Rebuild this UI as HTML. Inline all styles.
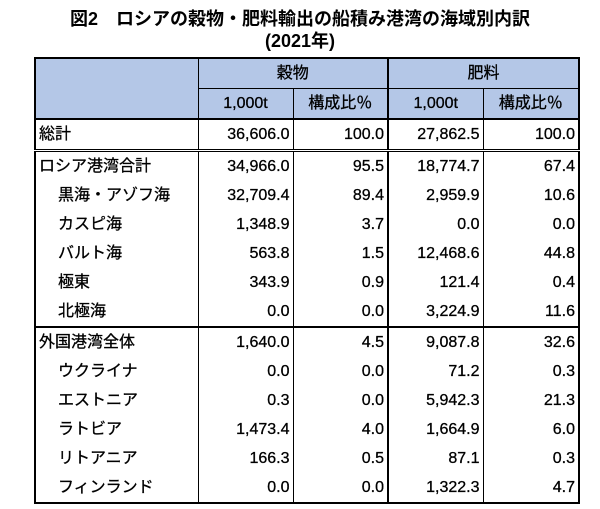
<!DOCTYPE html><html><head><meta charset="utf-8"><style>
body{margin:0;width:600px;height:509px;background:#fff;font-family:"Liberation Sans","Noto Sans CJK JP",sans-serif;color:#000;position:relative;overflow:hidden}
.t{position:absolute;left:0;width:600px;text-align:center;font-weight:bold;font-size:18px}
table{position:absolute;left:34px;top:57px;border-collapse:collapse;font-size:16px;-webkit-text-stroke:0.3px #000}
td{border:1px solid #000;padding:0 3px;height:29px;line-height:29px;white-space:nowrap}
td.n{text-align:right}
.h td{background:#b4c7e7;text-align:center}
.tk{border-top:2px solid #000}
.g td{border-top:none;border-bottom:none}
.ind{padding-left:22px}
</style></head><body>
<div class="t" style="top:5px">図2　ロシアの穀物・肥料輸出の船積み港湾の海域別内訳</div>
<div class="t" style="top:27px">(2021年)</div>
<table style="border:2px solid #000">
<colgroup><col style="width:163px"><col style="width:95px"><col style="width:95px"><col style="width:95px"><col style="width:96px"></colgroup>
<tr class="h"><td rowspan="2"></td><td colspan="2">穀物</td><td colspan="2" style="border-left:2px solid #000">肥料</td></tr>
<tr class="h"><td>1,000t</td><td>構成比％</td><td style="border-left:2px solid #000">1,000t</td><td>構成比％</td></tr>
<tr><td class="tk">総計</td><td class="n tk">36,606.0</td><td class="n tk">100.0</td><td class="n tk" style="border-left:2px solid #000">27,862.5</td><td class="n tk">100.0</td></tr>
<tr class="g"><td style="border-top:3px double #000">ロシア港湾合計</td><td class="n" style="border-top:3px double #000">34,966.0</td><td class="n" style="border-top:3px double #000">95.5</td><td class="n" style="border-top:3px double #000;border-left:2px solid #000">18,774.7</td><td class="n" style="border-top:3px double #000">67.4</td></tr>
<tr class="g"><td class="ind">黒海・アゾフ海</td><td class="n">32,709.4</td><td class="n">89.4</td><td class="n" style="border-left:2px solid #000">2,959.9</td><td class="n">10.6</td></tr>
<tr class="g"><td class="ind">カスピ海</td><td class="n">1,348.9</td><td class="n">3.7</td><td class="n" style="border-left:2px solid #000">0.0</td><td class="n">0.0</td></tr>
<tr class="g"><td class="ind">バルト海</td><td class="n">563.8</td><td class="n">1.5</td><td class="n" style="border-left:2px solid #000">12,468.6</td><td class="n">44.8</td></tr>
<tr class="g"><td class="ind">極東</td><td class="n">343.9</td><td class="n">0.9</td><td class="n" style="border-left:2px solid #000">121.4</td><td class="n">0.4</td></tr>
<tr class="g"><td class="ind">北極海</td><td class="n">0.0</td><td class="n">0.0</td><td class="n" style="border-left:2px solid #000">3,224.9</td><td class="n">11.6</td></tr>
<tr class="g"><td style="border-top:2px solid #000">外国港湾全体</td><td class="n" style="border-top:2px solid #000">1,640.0</td><td class="n" style="border-top:2px solid #000">4.5</td><td class="n" style="border-top:2px solid #000;border-left:2px solid #000">9,087.8</td><td class="n" style="border-top:2px solid #000">32.6</td></tr>
<tr class="g"><td class="ind">ウクライナ</td><td class="n">0.0</td><td class="n">0.0</td><td class="n" style="border-left:2px solid #000">71.2</td><td class="n">0.3</td></tr>
<tr class="g"><td class="ind">エストニア</td><td class="n">0.3</td><td class="n">0.0</td><td class="n" style="border-left:2px solid #000">5,942.3</td><td class="n">21.3</td></tr>
<tr class="g"><td class="ind">ラトビア</td><td class="n">1,473.4</td><td class="n">4.0</td><td class="n" style="border-left:2px solid #000">1,664.9</td><td class="n">6.0</td></tr>
<tr class="g"><td class="ind">リトアニア</td><td class="n">166.3</td><td class="n">0.5</td><td class="n" style="border-left:2px solid #000">87.1</td><td class="n">0.3</td></tr>
<tr class="g"><td class="ind">フィンランド</td><td class="n">0.0</td><td class="n">0.0</td><td class="n" style="border-left:2px solid #000">1,322.3</td><td class="n">4.7</td></tr>
</table>
</body></html>
